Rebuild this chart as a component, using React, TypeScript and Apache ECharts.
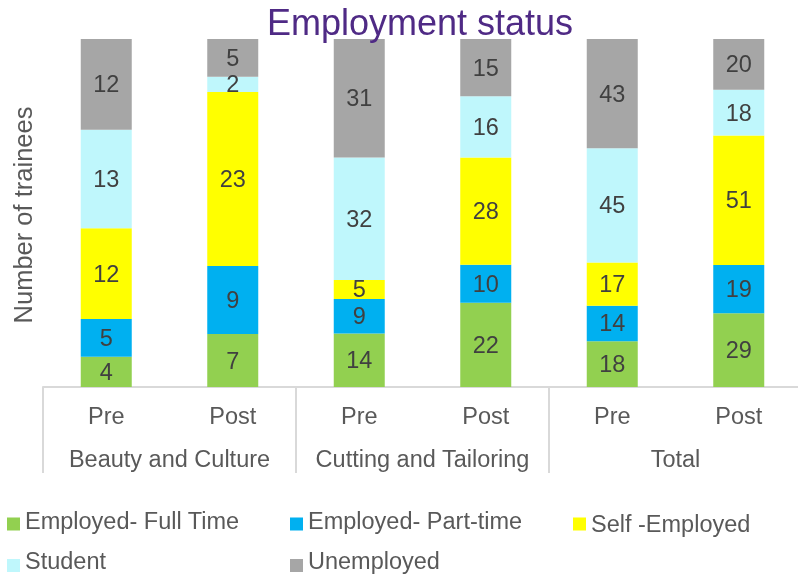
import React, { useEffect, useRef } from "react";
import * as echarts from "echarts";

const subCategories = ["Pre", "Post", "Pre", "Post", "Pre", "Post"];
const groups = ["Beauty and Culture", "Cutting and Tailoring", "Total"];
const seriesNames = ["Employed- Full Time", "Employed- Part-time", "Self -Employed", "Student", "Unemployed"];
const fullTime = [4, 7, 14, 22, 18, 29];
const partTime = [5, 9, 9, 10, 14, 19];
const selfEmployed = [12, 23, 5, 28, 17, 51];
const student = [13, 2, 32, 16, 45, 18];
const unemployed = [12, 5, 31, 15, 43, 20];
const colors = ["#92D050", "#00B0F0", "#FFFF00", "#BFF7FC", "#A6A6A6"];

const FONT = "'Liberation Sans', Arial, sans-serif";

function markerIcon(a: number) {
  return `path://M0,0L13,0ZM0,${a}L13,${a}L13,${a + 13}L0,${a + 13}Z`;
}

export default function App() {
  const ref = useRef<HTMLDivElement>(null);
  useEffect(() => {
    if (!ref.current) return;
    const chart = echarts.init(ref.current, undefined, { renderer: "svg" });
    const all = [fullTime, partTime, selfEmployed, student, unemployed];
    const totals = subCategories.map((_, i) => all.reduce((s, a) => s + a[i], 0));
    const series = all.map((arr, k) => ({
      name: seriesNames[k],
      type: "bar",
      stack: "total",
      barWidth: 51,
      xAxisIndex: 0,
      itemStyle: { color: colors[k] },
      label: {
        show: true,
        position: "inside",
        fontSize: 23.5,
        fontFamily: FONT,
        color: "#404040",
        formatter: (p: any) => String(arr[p.dataIndex]),
      },
      data: arr.map((v, i) => (v / totals[i]) * 100),
    }));
    // [left, top, marker offset below text centre (x2)]
    const legendPos = [
      [7, 509, 6],
      [290, 509, 6],
      [573, 511.5, 1],
      [7, 548.5, 10],
      [290, 548.5, 10],
    ];
    const legends = seriesNames.map((n, k) => ({
      left: legendPos[k][0],
      top: legendPos[k][1],
      data: [n],
      icon: markerIcon(legendPos[k][2]),
      itemWidth: 13,
      itemHeight: 13 + legendPos[k][2],
      padding: 0,
      itemGap: 0,
      selectedMode: false,
      textStyle: { fontSize: 23.5, lineHeight: 24, fontFamily: FONT, color: "#595959" },
    }));
    chart.setOption({
      animation: false,
      title: {
        text: "Employment status",
        left: 267,
        top: 4,
        padding: 0,
        textStyle: { fontSize: 36, fontWeight: "normal", fontFamily: FONT, color: "#4F2A85" },
      },
      legend: legends,
      grid: { left: 43, width: 759, top: 39, height: 348, outerBoundsMode: "none", containLabel: false },
      xAxis: [
        {
          type: "category",
          data: subCategories,
          position: "bottom",
          axisLine: { show: true, lineStyle: { color: "#D9D9D9", width: 2 } },
          axisTick: { show: false },
          axisLabel: { interval: 0, fontSize: 23.5, fontFamily: FONT, color: "#595959", margin: 17 },
        },
        {
          type: "category",
          data: groups,
          position: "bottom",
          axisLine: { show: false },
          axisTick: { show: true, interval: 0, length: 86, lineStyle: { color: "#D9D9D9", width: 2 } },
          axisLabel: { interval: 0, fontSize: 23.5, fontFamily: FONT, color: "#595959", margin: 60 },
        },
      ],
      yAxis: { type: "value", min: 0, max: 100, show: false },
      graphic: [
        {
          type: "text",
          x: 23,
          y: 215,
          rotation: Math.PI / 2,
          style: {
            text: "Number of trainees",
            fontSize: 25.5,
            fontFamily: FONT,
            fill: "#595959",
            textAlign: "center",
            textVerticalAlign: "middle",
          },
        },
      ],
      series,
    });
    return () => chart.dispose();
  }, []);
  return (
    <div
      ref={ref}
      style={{ position: "fixed", left: 0, top: 0, width: 798, height: 575, overflow: "hidden" }}
    />
  );
}
